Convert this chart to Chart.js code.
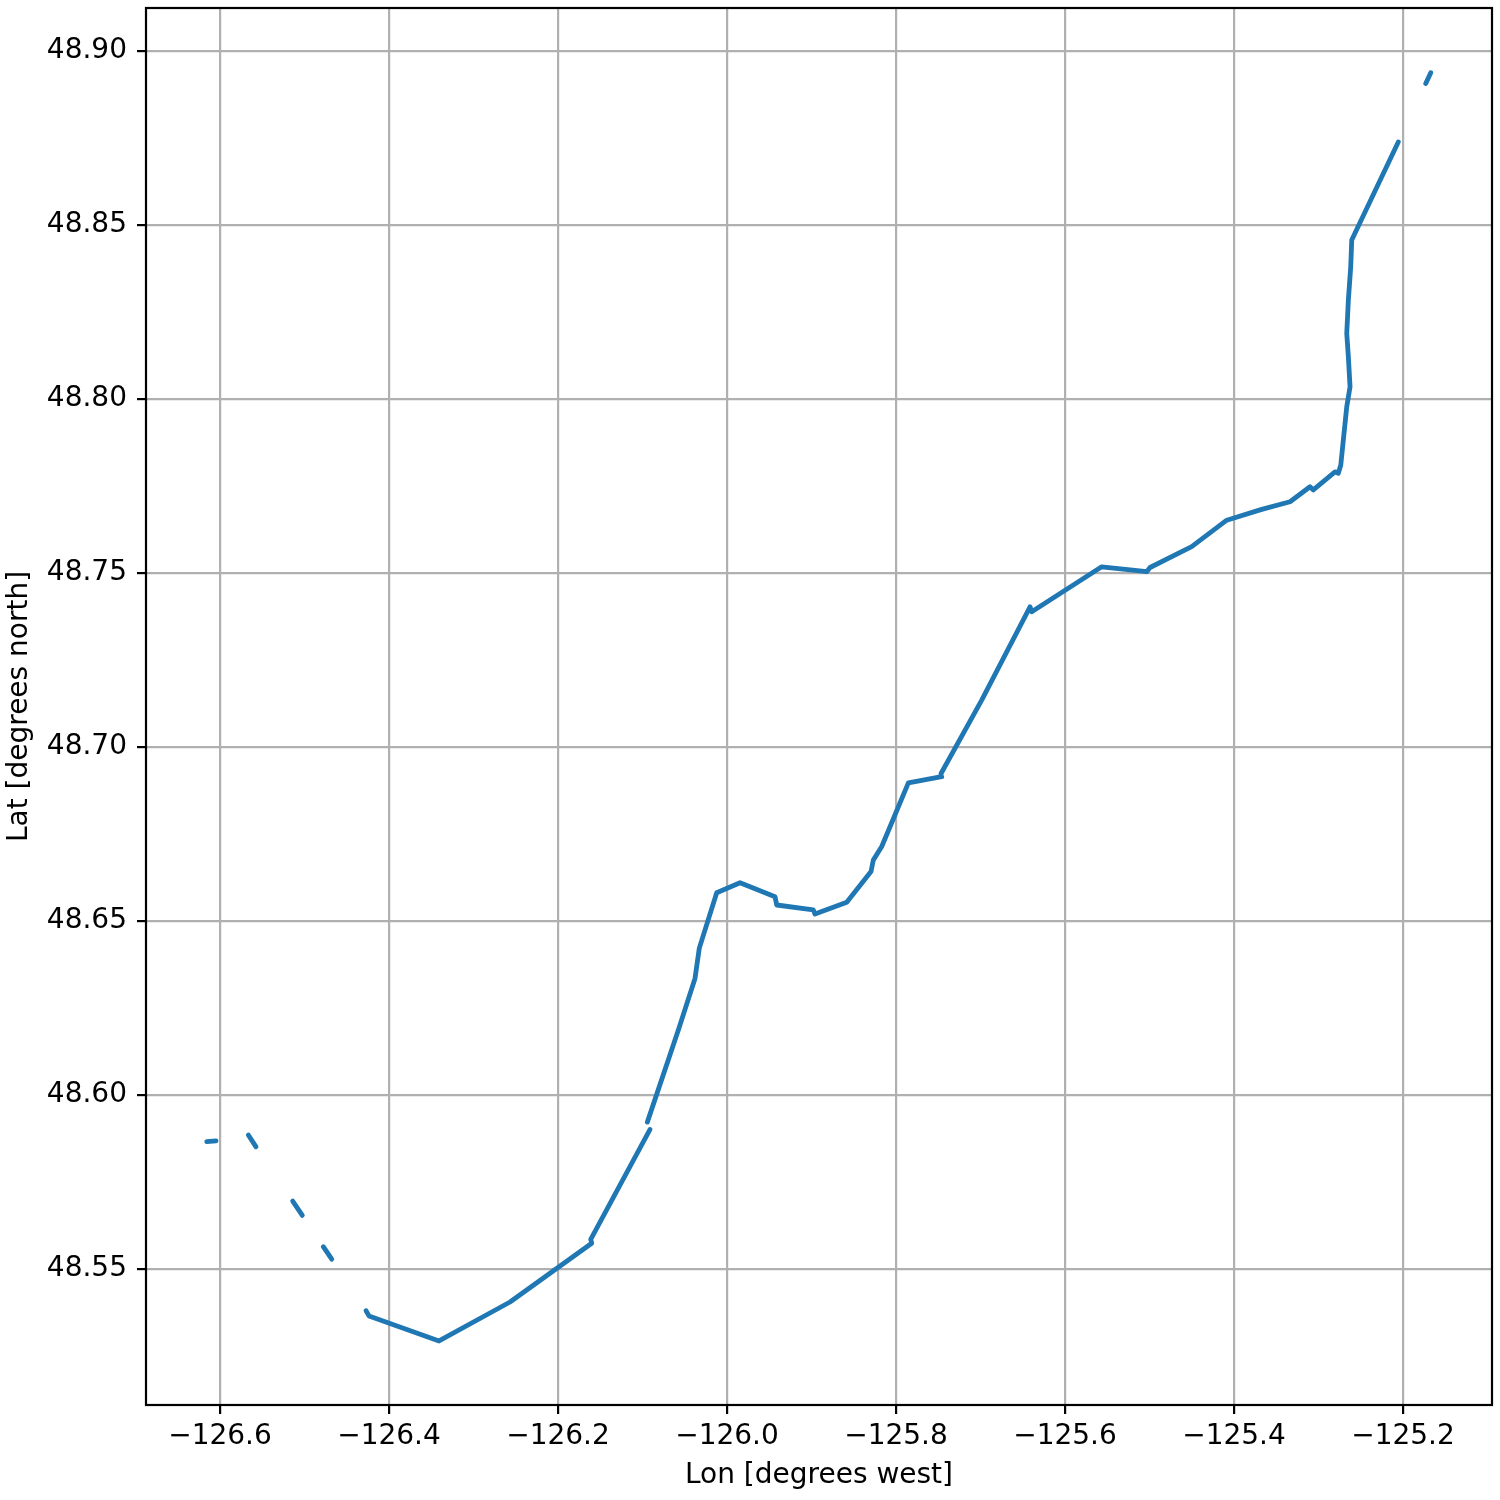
<!DOCTYPE html>
<html>
<head>
<meta charset="utf-8">
<script src="https://cdn.jsdelivr.net/npm/chart.js@4"></script>
<style>
  html, body { margin: 0; padding: 0; background: #fff; }
  #wrap { width: 1500px; height: 1500px; }
</style>
</head>
<body>
<div id="wrap"><canvas id="trackChart" width="1500" height="1500"></canvas></div>
<script>
// ship track, null = gap in the record
const lon = [
    -126.6157, -126.6047, null,
    -126.5665, -126.5574, null,
    -126.5140, -126.5026, null,
    -126.4778, -126.4678, null,
    -126.4272, -126.4237, -126.3408, -126.2568, -126.1601, -126.1613, -126.0911, null,
    -126.0943, -126.0576, -126.0379, -126.0328, -126.0122, -125.9846, -125.9432, -125.9412,
    -125.8979, -125.8959, -125.8583, -125.8296, -125.8269, -125.8169, -125.8071, -125.7854,
    -125.7459, -125.7467, -125.6986, -125.6414, -125.6394, -125.5566, -125.5033, -125.4994,
    -125.4501, -125.4086, -125.3672, -125.3337, -125.3101, -125.3062, -125.2805, -125.2766,
    -125.2737, -125.2666, -125.2627, -125.2647, -125.2666, -125.2647, -125.2619, -125.2607,
    -125.2056, null,
    -125.1731, -125.1672
];
const lat = [
    48.5866, 48.5868, null,
    48.5885, 48.5851, null,
    48.5695, 48.5654, null,
    48.5564, 48.5528, null,
    48.5380, 48.5365, 48.5293, 48.5405, 48.5574, 48.5585, 48.5901, null,
    48.5922, 48.6187, 48.6335, 48.6422, 48.6581, 48.6610, 48.6570, 48.6546,
    48.6532, 48.6520, 48.6554, 48.6642, 48.6675, 48.6714, 48.6771, 48.6897,
    48.6915, 48.6924, 48.7135, 48.7403, 48.7389, 48.7518, 48.7504, 48.7516,
    48.7576, 48.7652, 48.7683, 48.7705, 48.7748, 48.7739, 48.7791, 48.7787,
    48.7810, 48.7978, 48.8035, 48.8122, 48.8189, 48.8284, 48.8380, 48.8457,
    48.8739, null,
    48.8907, 48.8938
];

const xTicks = [-126.6, -126.4, -126.2, -126.0, -125.8, -125.6, -125.4, -125.2];
const yTicks = [48.55, 48.60, 48.65, 48.70, 48.75, 48.80, 48.85, 48.90];

const FONT = 'DejaVu Sans';
const lineColor = '#1f77b4';

// split the track into pieces at the gaps
function buildSegments() {
    const segs = [];
    let cur = [];
    for (let i = 0; i < lon.length; i++) {
        if (lon[i] === null || lat[i] === null) {
            if (cur.length) segs.push(cur);
            cur = [];
        } else {
            cur.push({ x: lon[i], y: lat[i] });
        }
    }
    if (cur.length) segs.push(cur);
    return segs;
}

const datasets = buildSegments().map(pts => ({
    data: pts,
    showLine: true,
    borderColor: lineColor,
    backgroundColor: lineColor,
    borderWidth: 4.8,
    borderCapStyle: 'round',
    borderJoinStyle: 'round',
    pointRadius: 0,
    pointHoverRadius: 0,
    tension: 0
}));

const framePlugin = {
    id: 'frame',
    afterDraw(chart) {
        const { ctx, chartArea } = chart;
        ctx.save();
        ctx.strokeStyle = '#000';
        ctx.lineWidth = 2.2;
        ctx.strokeRect(chartArea.left, chartArea.top,
            chartArea.right - chartArea.left, chartArea.bottom - chartArea.top);
        ctx.restore();
    }
};

const minus = s => s.replace('-', '\u2212');

new Chart(document.getElementById('trackChart').getContext('2d'), {
    type: 'scatter',
    data: { datasets: datasets },
    options: {
        responsive: false,
        animation: false,
        devicePixelRatio: 1,
        layout: { padding: { top: 8, right: 8, left: 0, bottom: 0 } },
        plugins: {
            legend: { display: false },
            tooltip: { enabled: false }
        },
        scales: {
            x: {
                type: 'linear',
                min: -126.6876,
                max: -125.0947,
                afterBuildTicks: s => { s.ticks = xTicks.map(v => ({ value: v })); },
                afterFit: s => { s.height = 95; s.paddingLeft = 0; s.paddingRight = 0; },
                ticks: {
                    color: '#000',
                    font: { family: FONT, size: 28 },
                    padding: 6,
                    maxRotation: 0,
                    callback: v => minus(v.toFixed(1))
                },
                grid: { color: '#b0b0b0', lineWidth: 2.2, tickColor: '#000', tickLength: 9, tickWidth: 2.2 },
                border: { display: false },
                title: {
                    display: true,
                    text: 'Lon [degrees west]',
                    color: '#000',
                    font: { family: FONT, size: 28 },
                    padding: { top: 0, bottom: 7 }
                }
            },
            y: {
                type: 'linear',
                min: 48.5109,
                max: 48.9124,
                afterBuildTicks: s => { s.ticks = yTicks.map(v => ({ value: v })); },
                afterFit: s => { s.width = 146; s.paddingTop = 0; s.paddingBottom = 0; },
                ticks: {
                    color: '#000',
                    font: { family: FONT, size: 28 },
                    padding: 10,
                    callback: v => v.toFixed(2)
                },
                grid: { color: '#b0b0b0', lineWidth: 2.2, tickColor: '#000', tickLength: 9, tickWidth: 2.2 },
                border: { display: false },
                title: {
                    display: true,
                    text: 'Lat [degrees north]',
                    color: '#000',
                    font: { family: FONT, size: 28 },
                    padding: { top: 3, bottom: 0 }
                }
            }
        }
    },
    plugins: [framePlugin]
});
</script>
</body>
</html>
